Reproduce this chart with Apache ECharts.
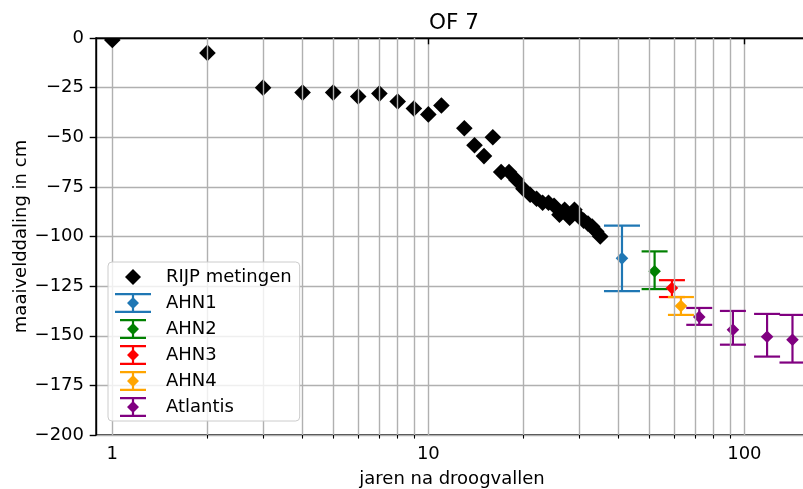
<!DOCTYPE html>
<html>
<head>
<meta charset="utf-8">
<title>OF 7</title>
<script src="https://cdn.jsdelivr.net/npm/echarts@6/dist/echarts.min.js"></script>
<style>
  html, body { margin: 0; padding: 0; background: #fff; }
  #chart { width: 803px; height: 489px; }
</style>
</head>
<body>
<div id="chart"></div>
<script>
// RIJP metingen (jaren na droogvallen, maaivelddaling in cm)
var rijpJaren = [1, 2, 3, 4, 5, 6, 7, 8, 9, 10, 11, 13, 14, 15, 16, 17, 18, 19, 20,
  21, 22, 23, 24, 25, 26, 27, 28, 29, 30, 31, 32, 33, 34, 35];
var rijpDaling = [-1, -7.5, -25, -27.5, -27.5, -29.5, -28, -32, -35.5, -38.5, -34,
  -45.5, -54, -59.5, -50, -67.5, -67.5, -71.5, -76, -79, -81, -83, -83, -84.5,
  -89, -86.5, -90.5, -86.5, -90, -92, -93.5, -95, -97.5, -100];

// AHN hoogtemetingen met spreiding
var ahnNamen = ['AHN1', 'AHN2', 'AHN3', 'AHN4'];
var ahnJaren = [41, 52, 59, 63];
var ahnDaling = [-111, -117.5, -126, -135];
var ahnOnder = [-127.5, -126.5, -130.5, -139.5];
var ahnBoven = [-94.5, -107.5, -122, -130.5];

// Atlantis prognose
var atlantisJaren = [72, 92, 118, 142];
var atlantisDaling = [-140.5, -147, -150.5, -152];
var atlantisOnder = [-144.5, -154.5, -160.5, -163.5];
var atlantisBoven = [-136, -137.5, -139, -139.5];

// ticks
var xTicks = [1, 10, 100];
var xMinorTicks = [2, 3, 4, 5, 6, 7, 8, 9, 20, 30, 40, 50, 60, 70, 80, 90];

var ahnKleuren = ['#1f77b4', '#008000', '#ff0000', '#ffa500'];
var atlantisKleur = '#800080';
var font = 'DejaVu Sans';
var gridGrijs = '#b0b0b0';

var diamondIcon = 'path://M0 0L0 0ZM40 20L40 20ZM20 2L28 10L20 18L12 10Z';
var errIconWide = 'path://M0 0L0 0ZM40 20L40 20ZM2 0H38V2.2H2ZM2 17.8H38V20H2ZM18.9 1H21.1V19H18.9ZM20 4L26 10L20 16L14 10Z';
var errIconSmall = 'path://M0 0L0 0ZM40 20L40 20ZM7 0H33V2.2H7ZM7 17.8H33V20H7ZM18.9 1H21.1V19H18.9ZM20 4L26 10L20 16L14 10Z';

function errorBar(capHalf) {
  return function (params, api) {
    var x = api.value(0);
    var mid = api.coord([x, api.value(1)]);
    var lo = api.coord([x, api.value(2)]);
    var hi = api.coord([x, api.value(3)]);
    var color = api.visual('color');
    var st = { stroke: color, lineWidth: 2.2 };
    return {
      type: 'group',
      children: [
        { type: 'line', shape: { x1: hi[0], y1: hi[1], x2: lo[0], y2: lo[1] }, style: st },
        { type: 'line', shape: { x1: hi[0] - capHalf, y1: hi[1], x2: hi[0] + capHalf, y2: hi[1] }, style: st },
        { type: 'line', shape: { x1: lo[0] - capHalf, y1: lo[1], x2: lo[0] + capHalf, y2: lo[1] }, style: st },
        { type: 'polygon', shape: { points: [[mid[0], mid[1] - 6.3], [mid[0] + 6.3, mid[1]], [mid[0], mid[1] + 6.3], [mid[0] - 6.3, mid[1]]] }, style: { fill: color } }
      ]
    };
  };
}

function renderDiamond(params, api) {
  var p = api.coord([api.value(0), api.value(1)]);
  return {
    type: 'polygon',
    shape: { points: [[p[0], p[1] - 8.3], [p[0] + 8.3, p[1]], [p[0], p[1] + 8.3], [p[0] - 8.3, p[1]]] },
    style: { fill: '#000' }
  };
}

var series = [];

// verticale rasterlijnen voor de tussenliggende log-waarden
series.push({
  type: 'line',
  data: [],
  silent: true,
  z: 1,
  markLine: {
    silent: true,
    symbol: ['none', 'none'],
    symbolSize: 0,
    label: { show: false },
    animation: false,
    lineStyle: { color: gridGrijs, width: 1.4, type: 'solid' },
    emphasis: { disabled: true },
    data: xMinorTicks.map(function (v) { return { xAxis: v }; })
  }
});

series.push({
  name: 'RIJP metingen',
  type: 'custom',
  renderItem: renderDiamond,
  clip: true,
  itemStyle: { color: '#000' },
  encode: { x: 0, y: 1 },
  data: rijpJaren.map(function (j, i) { return [j, rijpDaling[i]]; }),
  z: 3
});

ahnNamen.forEach(function (naam, i) {
  series.push({
    name: naam,
    type: 'custom',
    renderItem: errorBar(i === 0 ? 18 : 13),
    clip: true,
    itemStyle: { color: ahnKleuren[i] },
    encode: { x: 0, y: [1, 2, 3] },
    data: [[ahnJaren[i], ahnDaling[i], ahnOnder[i], ahnBoven[i]]],
    z: 3
  });
});

series.push({
  name: 'Atlantis',
  type: 'custom',
  renderItem: errorBar(13),
  clip: true,
  itemStyle: { color: atlantisKleur },
  encode: { x: 0, y: [1, 2, 3] },
  data: atlantisJaren.map(function (j, i) {
    return [j, atlantisDaling[i], atlantisOnder[i], atlantisBoven[i]];
  }),
  z: 3
});

var chart = echarts.init(document.getElementById('chart'), null, { renderer: 'canvas' });
chart.setOption({
  animation: false,
  backgroundColor: '#fff',
  textStyle: { fontFamily: font, color: '#000' },
  title: {
    text: 'OF 7',
    left: 449,
    textAlign: 'center',
    top: 7,
    textStyle: { fontFamily: font, fontSize: 21.6, fontWeight: 'normal', color: '#000' }
  },
  grid: {
    left: 96,
    top: 38,
    right: -5,
    bottom: 54,
    show: true,
    borderColor: '#000',
    borderWidth: 1.4,
    backgroundColor: 'transparent',
    containLabel: false,
    outerBoundsMode: 'none'
  },
  legend: {
    orient: 'vertical',
    left: 108,
    top: 262,
    padding: [5, 8, 4, 5],
    itemWidth: 40,
    itemHeight: 20,
    itemGap: 6,
    backgroundColor: 'rgba(255,255,255,0.8)',
    borderColor: '#cccccc',
    borderWidth: 1,
    borderRadius: 4,
    selectedMode: false,
    textStyle: { fontFamily: font, fontSize: 18, color: '#000', lineHeight: 20, padding: [0, 0, 0, 8] },
    data: [
      { name: 'RIJP metingen', icon: diamondIcon },
      { name: 'AHN1', icon: errIconWide },
      { name: 'AHN2', icon: errIconSmall },
      { name: 'AHN3', icon: errIconSmall },
      { name: 'AHN4', icon: errIconSmall },
      { name: 'Atlantis', icon: errIconSmall }
    ],
    z: 10
  },
  xAxis: [{
    type: 'log',
    logBase: 10,
    min: 0.888,
    max: 159,
    position: 'bottom',
    name: 'jaren na droogvallen',
    nameLocation: 'middle',
    nameGap: 35,
    nameMoveOverlap: false,
    nameTextStyle: { fontFamily: font, fontSize: 18, color: '#000' },
    axisLine: { show: true, lineStyle: { color: '#000', width: 1.4 } },
    axisTick: { show: true, length: 6.3, lineStyle: { color: '#000', width: 1.4 }, customValues: xTicks },
    axisLabel: { show: true, margin: 10, fontFamily: font, fontSize: 18, color: '#000', customValues: xTicks,
      formatter: function (v) { return String(Math.round(v)); } },
    splitLine: { show: true, lineStyle: { color: gridGrijs, width: 1.4 } },
    minorTick: { show: false },
    minorSplitLine: { show: false }
  }, {
    type: 'log',
    logBase: 10,
    min: 0.888,
    max: 159,
    position: 'bottom',
    offset: 0,
    axisLine: { show: false },
    axisTick: { show: true, length: 3.6, lineStyle: { color: '#000', width: 1.1 }, customValues: xMinorTicks },
    axisLabel: { show: false },
    splitLine: { show: false },
    minorTick: { show: false },
    minorSplitLine: { show: false }
  }],
  yAxis: {
    type: 'value',
    min: -200,
    max: 0,
    interval: 25,
    name: 'maaivelddaling in cm',
    nameLocation: 'middle',
    nameGap: 66,
    nameMoveOverlap: false,
    nameTextStyle: { fontFamily: font, fontSize: 18, color: '#000' },
    axisLine: { show: true, lineStyle: { color: '#000', width: 1.4 } },
    axisTick: { show: true, length: 6.3, lineStyle: { color: '#000', width: 1.4 } },
    axisLabel: { margin: 12, fontFamily: font, fontSize: 18, color: '#000',
      formatter: function (v) { return v < 0 ? '\u2212' + Math.abs(v) : String(v); } },
    splitLine: { show: true, lineStyle: { color: gridGrijs, width: 1.4 } }
  },
  series: series
});
</script>
</body>
</html>
